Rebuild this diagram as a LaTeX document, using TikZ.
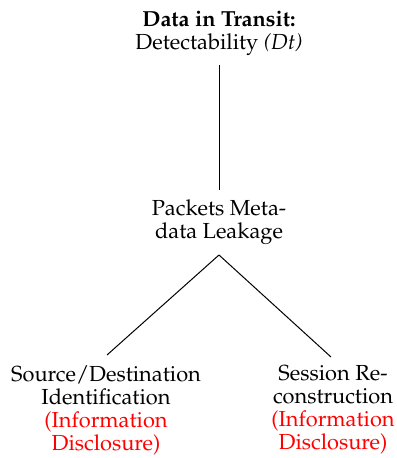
\documentclass[tikz,border=0pt]{standalone}
\usepackage[T1]{fontenc}
\usepackage{mathpazo}
\begin{document}
\begin{tikzpicture}[x=0.5pt,y=-0.5pt,
  lbl/.style={align=center,inner sep=0pt,font=\fontsize{10.9}{11.5}\selectfont},
  edge/.style={draw=black,line width=0.5pt}]
\useasboundingbox (0,0) rectangle (396,458);
\node[lbl,anchor=center] (root) at (219,33) {\textbf{Data in Transit:}\\ Detectability \textit{(Dt)}};
\node[lbl,anchor=center] (mid) at (219,222) {Packets Meta-\\data Leakage};
\node[lbl,anchor=center] (left) at (106,410) {Source/Destination\\Identification\\\textcolor{red}{(Information}\\\textcolor{red}{Disclosure)}};
\node[lbl,anchor=center] (right) at (333,410) {Session Re-\\construction\\\textcolor{red}{(Information}\\\textcolor{red}{Disclosure)}};
\coordinate (rb) at (219,65);
\coordinate (mt) at (219,190);
\coordinate (mb) at (219,255);
\coordinate (lt) at (107,355);
\coordinate (rt) at (331,357);
\path[edge] (rb) -- (mt);
\path[edge] (mb) -- (lt);
\path[edge] (mb) -- (rt);
\end{tikzpicture}
\end{document}
